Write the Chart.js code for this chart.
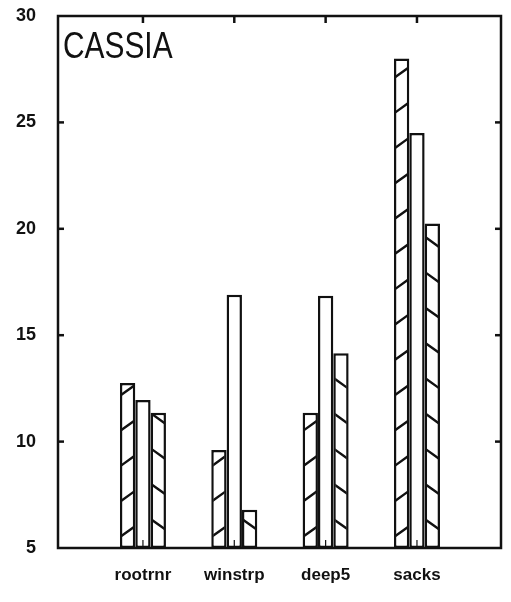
<!DOCTYPE html>
<html>
<head>
<meta charset="utf-8">
<script src="https://cdn.jsdelivr.net/npm/chart.js@4/dist/chart.umd.min.js"></script>
<style>
  html, body { margin: 0; padding: 0; background: #fff; }
  #wrap { width: 511px; height: 602px; }
</style>
</head>
<body>
<div id="wrap"><canvas id="c" width="511" height="602"></canvas></div>
<script>
// Site names along the x axis
const CATEGORIES = ['rootrnr', 'winstrp', 'deep5', 'sacks'];
// Three treatments per site
const SERIES_A = [12.75, 9.6, 11.35, 28.0];   // forward hatch
const SERIES_B = [11.95, 16.9, 16.85, 24.5];  // open bar
const SERIES_C = [11.35, 6.8, 14.15, 20.25];  // back hatch
const Y_TICKS = [5, 10, 15, 20, 25, 30];
const PANEL_LABEL = 'CASSIA';

const INK = '#111';
const FONT = "'Liberation Sans', Arial, sans-serif";

const toPoints = vals => vals.map((v, i) => ({ x: i + 1, y: v }));

// Diagonal hatching clipped to each bar
const hatchPlugin = {
  id: 'hatch',
  afterDatasetsDraw(chart) {
    const ctx = chart.ctx;
    const area = chart.chartArea;
    chart.data.datasets.forEach((ds, di) => {
      if (!ds.hatch) return;
      chart.getDatasetMeta(di).data.forEach(bar => {
        const p = bar.getProps(['x', 'y', 'base', 'width'], true);
        const base = Math.min(p.base, area.bottom);
        const top = p.y;
        const l = p.x - p.width / 2, r = p.x + p.width / 2;
        ctx.save();
        ctx.beginPath();
        ctx.rect(l + 2, top + 2, p.width - 4, base - top - 4);
        ctx.clip();
        ctx.strokeStyle = INK;
        ctx.lineWidth = 2.4;
        ctx.beginPath();
        const start = ds.hatch === '/' ? 11 : 18;
        for (let k = 0; ; k++) {
          const yy = base - start - k * 35.3;
          if (yy < top - 20) break;
          if (ds.hatch === '/') { ctx.moveTo(l, yy); ctx.lineTo(r, yy - 11); }
          else { ctx.moveTo(l, yy - 11); ctx.lineTo(r, yy); }
        }
        ctx.stroke();
        ctx.restore();
      });
    });
  }
};

// Box frame, inward ticks and panel label
const framePlugin = {
  id: 'frame',
  afterDraw(chart) {
    const { ctx, chartArea: a, scales: { x, y } } = chart;
    const seg = (x1, y1, x2, y2) => { ctx.beginPath(); ctx.moveTo(x1, y1); ctx.lineTo(x2, y2); ctx.stroke(); };
    ctx.save();
    ctx.strokeStyle = INK;
    ctx.lineWidth = 2.5;
    ctx.strokeRect(a.left, a.top, a.right - a.left, a.bottom - a.top);
    Y_TICKS.slice(1, -1).forEach(v => {
      const py = y.getPixelForValue(v);
      seg(a.left, py, a.left + 6, py);
      seg(a.right, py, a.right - 6, py);
    });
    CATEGORIES.forEach((_, i) => {
      const px = x.getPixelForValue(i + 1);
      seg(px, a.top, px, a.top + 7);
    });
    ctx.lineWidth = 1.2;
    CATEGORIES.forEach((_, i) => {
      const px = x.getPixelForValue(i + 1);
      seg(px, a.bottom, px, a.bottom - 8);
    });
    ctx.fillStyle = INK;
    ctx.font = "36px " + FONT;
    ctx.textBaseline = 'alphabetic';
    ctx.textAlign = 'left';
    ctx.translate(a.left + 5, a.top + 42);
    ctx.scale(0.83, 1);
    ctx.fillText(PANEL_LABEL, 0, 0);
    ctx.restore();
  }
};

const barStyle = {
  backgroundColor: '#fff',
  borderColor: INK,
  borderWidth: 2.5,
  borderSkipped: false,
  categoryPercentage: 0.504,
  barPercentage: 1,
  base: Y_TICKS[0]
};

new Chart(document.getElementById('c'), {
  type: 'bar',
  data: {
    datasets: [
      Object.assign({ label: 'a', data: toPoints(SERIES_A), hatch: '/' }, barStyle),
      Object.assign({ label: 'b', data: toPoints(SERIES_B) }, barStyle),
      Object.assign({ label: 'c', data: toPoints(SERIES_C), hatch: '\\' }, barStyle)
    ]
  },
  options: {
    responsive: false,
    animation: false,
    devicePixelRatio: 1,
    layout: { padding: { top: 16, right: 10, left: 0, bottom: 0 } },
    plugins: { legend: { display: false }, tooltip: { enabled: false }, colors: { enabled: false } },
    scales: {
      x: {
        type: 'linear',
        min: 0.07,
        max: 4.92,
        offset: false,
        grid: { display: false, drawTicks: false, offset: false },
        border: { display: false },
        afterBuildTicks: s => { s.ticks = CATEGORIES.map((_, i) => ({ value: i + 1 })); },
        afterFit: s => { s.height = 54; s.paddingLeft = 0; s.paddingRight = 0; },
        ticks: {
          padding: 17,
          autoSkip: false,
          maxRotation: 0,
          color: INK,
          font: { family: FONT, size: 17, weight: 'bold' },
          callback: v => CATEGORIES[v - 1] || ''
        }
      },
      y: {
        min: 5,
        max: 30,
        grid: { display: false, drawTicks: false },
        border: { display: false },
        afterBuildTicks: s => { s.ticks = Y_TICKS.map(v => ({ value: v })); },
        afterFit: s => { s.width = 58; s.paddingTop = 0; s.paddingBottom = 0; },
        ticks: {
          padding: 22,
          color: INK,
          font: { family: FONT, size: 18, weight: 'bold' }
        }
      }
    }
  },
  plugins: [hatchPlugin, framePlugin]
});
</script>
</body>
</html>
